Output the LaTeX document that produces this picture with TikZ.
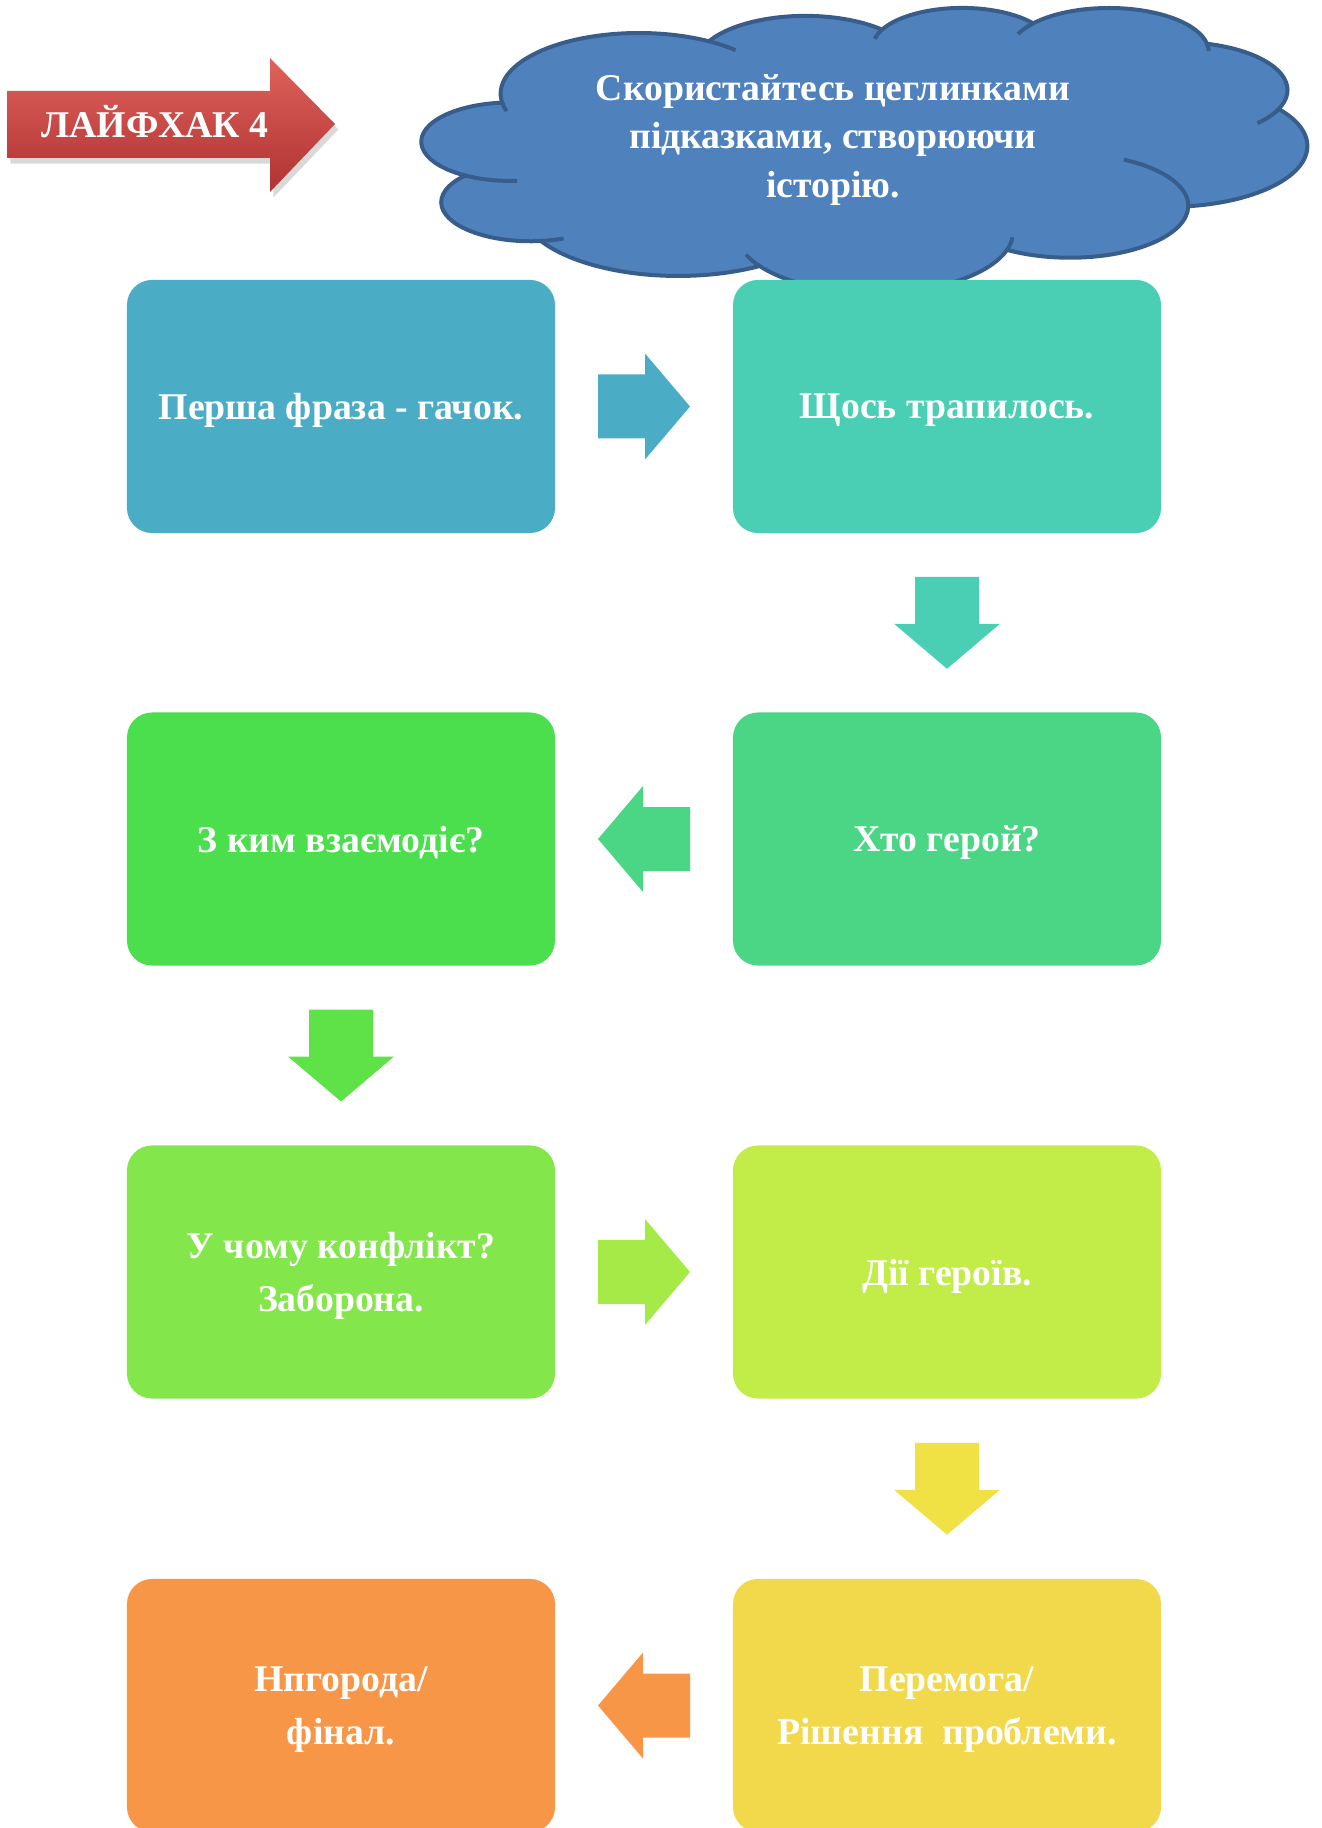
\documentclass[tikz,border=0pt]{standalone}
\usepackage{fontspec}
\setmainfont{Liberation Serif}
\usetikzlibrary{calc,shadows}

\definecolor{hookc}{HTML}{4BACC6}
\definecolor{eventc}{HTML}{4ACEB4}
\definecolor{heroc}{HTML}{4AD685}
\definecolor{whomc}{HTML}{4BDF4D}
\definecolor{conflc}{HTML}{83E64A}
\definecolor{actc}{HTML}{C2EC48}
\definecolor{winc}{HTML}{F2D84B}
\definecolor{rewc}{HTML}{F79646}
\definecolor{arrgreen}{HTML}{5EE247}
\definecolor{arrlime}{HTML}{A6EA48}
\definecolor{arryellow}{HTML}{F0E244}
\definecolor{cloudc}{HTML}{4F81BD}
\definecolor{cloudedge}{HTML}{385D8A}
\definecolor{redtop}{HTML}{E0625C}
\definecolor{redmid}{HTML}{C94040}
\definecolor{redbot}{HTML}{B03232}

\begin{document}
\begin{tikzpicture}[x=0.4504pt, y=-0.4504pt,
  box/.style={rounded corners=11.3pt, minimum width=192.8pt, minimum height=114pt, inner sep=0pt,
    text=white, align=center, text depth=0pt, font=\bfseries\fontsize{17}{24}\selectfont},
  cloudtext/.style={text=white, align=center, text depth=0pt, font=\bfseries\fontsize{17}{22}\selectfont},
  cloudline/.style={draw=cloudedge, line width=1.8pt}]

  \useasboundingbox (0,0) rectangle (1321,1828);

  % red label arrow
  \path[drop shadow={opacity=0.3, shadow xshift=1.5pt, shadow yshift=-2.5pt},
    top color=redtop, middle color=redmid, bottom color=redbot]
    (7,91) -- (270,91) -- (270,58) -- (335,124) -- (270,192) -- (270,158) -- (7,158) -- cycle;
  \node[text=white, font=\bfseries\fontsize{17}{20}\selectfont] (lifehack) at (155,122) {ЛАЙФХАК 4};

  % cloud (office preset, path units / 100)
  \begin{scope}[shift={(422,7)}, xscale=885/432, yscale=285/432]
    \filldraw[fill=cloudc, cloudline] (39,143.7) coordinate (j0)
      foreach \ra/\rb/\sa/\da [count=\i] in {67.53/91.90/-190.48748/123.78053, 53.33/72.67/-144.10238/89.94523,
        43.65/59.45/-145.80792/99.72302, 48.57/65.95/-130.98607/117.24173, 53.33/72.73/-78.70888/109.02692,
        67.75/92.20/-46.26725/130.269, 57.85/78.67/0.62502/114.03333, 67.52/92.15/22.4516/115.17255,
        77.20/105.43/66.24263/75.71102, 43.60/59.18/-274.94208/146.73557, 43.45/59.45/-246.8285/152.51885}
      { arc[x radius=\ra, y radius=\rb, start angle={atan2(\ra*sin(\sa),\rb*cos(\sa))},
          delta angle={mod(atan2(\ra*sin(\sa+\da),\rb*cos(\sa+\da))-atan2(\ra*sin(\sa),\rb*cos(\sa))+720,360)}]
        coordinate (j\i) }
      -- cycle;
    % inner strokes at the joins
    \draw[cloudline]
      foreach \j/\ra/\rb/\sa/\da in {0/67.53/91.90/-190.48748/-11.85817, 1/67.53/91.90/-66.70695/12.31935,
        2/43.65/59.45/-145.80792/-17.68667, 3/48.57/65.95/-130.98607/-18.1874,
        4/48.57/65.95/-13.74434/12.91135, 5/53.33/72.73/30.31804/22.1778, 6/57.85/78.67/0.62502/-70,
        7/67.52/92.15/22.4516/-15.99835, 8/67.52/92.15/137.62415/14.0811,
        9/43.60/59.18/85.05792/-11.44747, 10/43.45/59.45/113.1715/-26.4295}
      { (j\j) arc[x radius=\ra, y radius=\rb, start angle={atan2(\ra*sin(\sa),\rb*cos(\sa))},
          delta angle={mod(atan2(\ra*sin(\sa+\da),\rb*cos(\sa+\da))-atan2(\ra*sin(\sa),\rb*cos(\sa))+540,360)-180}] };
  \end{scope}
  \node[cloudtext] (tip) at (833,136) {Скористайтесь цеглинками\\підказками, створюючи\\історію.};

  % story boxes
  \node[box, fill=hookc] (hook) at (341,406.5) {Перша фраза - гачок.};
  \node[box, fill=eventc] (event) at (947,406.5) {Щось трапилось.};
  \node[box, fill=heroc] (hero) at (947,839) {Хто герой?};
  \node[box, fill=whomc] (whom) at (341,839) {З ким взаємодіє?};
  \node[box, fill=conflc] (conflict) at (341,1272) {У чому конфлікт?\\Заборона.};
  \node[box, fill=actc] (actions) at (947,1272) {Дії героїв.};
  \node[box, fill=winc] (victory) at (947,1705.5) {Перемога/\\Рішення~ проблеми.};
  \node[box, fill=rewc] (reward) at (341,1705.5) {Нпгорода/\\фінал.};

  % block arrows between boxes
  \foreach \a/\b/\r/\c in {hook/event/0/hookc, event/hero/-90/eventc, hero/whom/180/heroc,
      whom/conflict/-90/arrgreen, conflict/actions/0/arrlime, actions/victory/-90/arryellow,
      victory/reward/180/rewc} {
    \begin{scope}[shift={($(\a)!0.5!(\b)$)}, rotate=\r]
      \fill[\c] (-46,-32) -- (1,-32) -- (1,-53) -- (46,0) -- (1,53) -- (1,32) -- (-46,32) -- cycle;
    \end{scope}
  }

\end{tikzpicture}
\end{document}
